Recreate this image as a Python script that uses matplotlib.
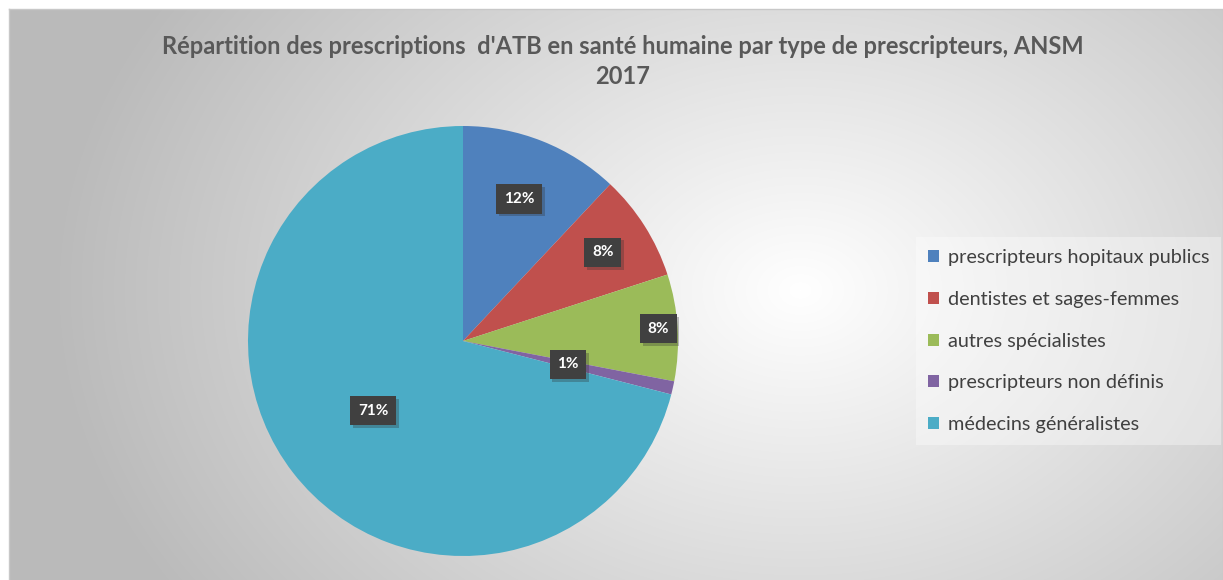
import numpy as np
import matplotlib.pyplot as plt
import matplotlib.patheffects as pe

categories = ["prescripteurs hopitaux publics", "dentistes et sages-femmes",
              "autres spécialistes", "prescripteurs non définis",
              "médecins généralistes"]
values = [12, 8, 8, 1, 71]
colors = ["#4f81bd", "#c0504d", "#9bbb59", "#8064a2", "#4bacc6"]
# where each percentage box sits, as a fraction of the radius
label_r = [0.71, 0.77, 0.91, 0.50, 0.53]

plt.rcParams['font.family'] = ['Lato', 'DejaVu Sans']

W, H = 1223, 580
fig = plt.figure(figsize=(W / 100, H / 100), dpi=100)

# radial gradient background
bg = fig.add_axes([0, 0, 1, 1])
yy, xx = np.mgrid[0:H, 0:W]
d = np.hypot((xx - 800) / 750, (yy - 290) / 560)
shade = 1 - 0.27 * np.clip(d, 0, 1)
img = np.dstack([shade, shade, shade])
img[:9, :] = 1
img[:, :9] = 1
bg.imshow(img, extent=[0, W, H, 0], aspect='auto')
bg.plot([9, W, W], [9, 9, H], color='#c8c8c8', lw=1)
bg.plot([9, 9], [9, H], color='#c8c8c8', lw=1)
bg.set_xlim(0, W)
bg.set_ylim(H, 0)
bg.axis('off')

# pie: center (463, 341), radius 215 px
cx, cy, r = 463, 341, 215
ax = fig.add_axes([(cx - r) / W, (H - cy - r) / H, 2 * r / W, 2 * r / H])
wedges, _ = ax.pie(values, colors=colors, startangle=90, counterclock=False,
                   wedgeprops=dict(linewidth=0))
ax.set_xlim(-1, 1)
ax.set_ylim(-1, 1)
ax.set_aspect('equal')

for w, v, lr in zip(wedges, values, label_r):
    ang = np.deg2rad((w.theta1 + w.theta2) / 2)
    t = ax.text(lr * np.cos(ang), lr * np.sin(ang), f"{v}%", ha='center',
                va='center', color='white', fontsize=11, fontweight='bold',
                bbox=dict(boxstyle='square,pad=0.5', fc='#404040', ec='none'))
    t.get_bbox_patch().set_path_effects(
        [pe.SimplePatchShadow(offset=(2, -2), shadow_rgbFace='#303030', alpha=0.3),
         pe.Normal()])

fig.text(623 / W, 1 - 47 / H,
         "Répartition des prescriptions  d'ATB en santé humaine par type de prescripteurs, ANSM",
         ha='center', va='center', fontsize=17, fontweight='bold', color='#595959')
fig.text(623 / W, 1 - 76 / H, "2017", ha='center', va='center',
         fontsize=17, fontweight='bold', color='#595959')

leg = fig.legend(wedges, categories, loc='upper left',
                 bbox_to_anchor=(916 / W, 1 - 237 / H), frameon=True,
                 fontsize=14.3, labelcolor='#404040', handlelength=0.55,
                 handleheight=0.55, handletextpad=0.45, labelspacing=1.25,
                 borderpad=0.6, borderaxespad=0, fancybox=False)
leg.get_frame().set_facecolor('white')
leg.get_frame().set_alpha(0.35)
leg.get_frame().set_edgecolor('none')

fig.savefig('out.png', dpi=100)
